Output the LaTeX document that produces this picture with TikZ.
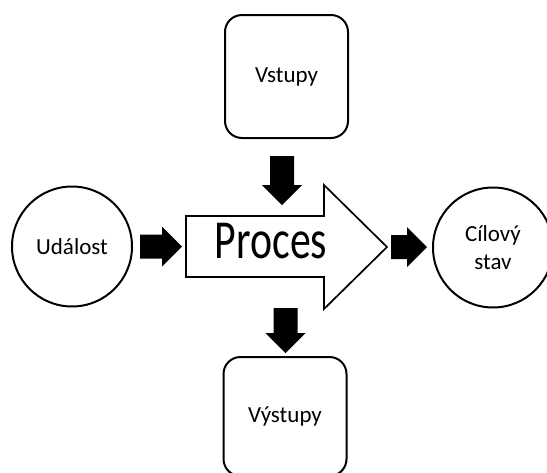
\documentclass[tikz,border=0pt]{standalone}
\usepackage{fontspec}
\usepackage{graphicx}
\setmainfont{Carlito}
\begin{document}
\begin{tikzpicture}[x=1pt,y=-1pt,
  lbl/.style={font=\fontsize{23}{28}\selectfont, align=center},
  box/.style={draw, line width=2pt, rounded corners=17pt, minimum width=123pt, minimum height=123pt, lbl},
  circ/.style={draw, circle, line width=2pt, minimum size=120pt, inner sep=0pt, lbl},
  bigarrow/.style={draw, fill=white, line width=1.7pt, line join=miter},
  pics/blockarrow/.style={code={
    \fill[black] (0,0) -- (-20,-20) -- (-20,-12) -- (-#1,-12) -- (-#1,12) -- (-20,12) -- (-20,20) -- cycle;}}
]
\useasboundingbox (0,0) rectangle (547,472);
\begin{scope}
  \clip (0,0) rectangle (547,472);
  % inputs and outputs
  \node[box] (vstupy) at (286.5,76.5) {Vstupy};
  \node[box, minimum height=119pt] (vystupy) at (285,416.5) {Výstupy};
  % event and goal state
  \node[circ] (udalost) at (72,246.5) {Událost};
  \node[circ] (cil) at (493,247.5) {Cílový\\stav};
  % the process arrow
  \draw[bigarrow] (186,216) -- (324,216) -- (324,185) -- (387,247) -- (324,309) -- (324,277) -- (186,277) -- cycle;
  \node[font=\fontsize{55}{60}\selectfont, anchor=base, inner sep=0pt] (proces) at (271,258) {\scalebox{0.76}[1]{Proces}};
  % solid block arrows
  \pic at (182,246.5) {blockarrow=42};
  \pic at (427,247) {blockarrow=36};
  \pic[rotate=-90] at (282,205) {blockarrow=49};
  \pic[rotate=-90] at (285.5,353) {blockarrow=45};
\end{scope}
\end{tikzpicture}
\end{document}
